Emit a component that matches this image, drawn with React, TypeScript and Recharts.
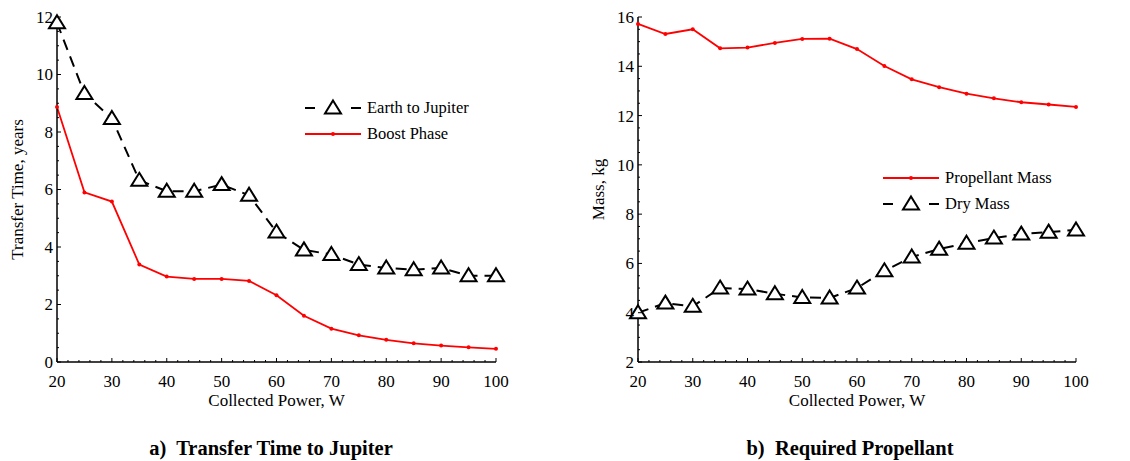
import React from 'react';
import { LineChart, Line, XAxis, YAxis, Legend } from 'recharts';

const FONT = '"Liberation Serif", "Times New Roman", Times, serif';

// Collected power, W
const power = [20, 25, 30, 35, 40, 45, 50, 55, 60, 65, 70, 75, 80, 85, 90, 95, 100];

// a) Transfer time, years
const earthToJupiter = [11.8, 9.34, 8.47, 6.32, 5.94, 5.94, 6.17, 5.8, 4.52, 3.9, 3.74, 3.39, 3.27, 3.21, 3.27, 3.0, 3.0];
const boostPhase = [8.87, 5.9, 5.58, 3.39, 2.97, 2.89, 2.89, 2.82, 2.32, 1.61, 1.16, 0.93, 0.77, 0.65, 0.57, 0.51, 0.46];

// b) Mass, kg
const propellantMass = [15.72, 15.31, 15.5, 14.73, 14.76, 14.95, 15.11, 15.12, 14.7, 14.01, 13.47, 13.15, 12.89, 12.7, 12.54, 12.45, 12.35];
const dryMass = [4.0, 4.39, 4.26, 5.0, 4.96, 4.77, 4.62, 4.6, 5.0, 5.7, 6.26, 6.58, 6.82, 7.03, 7.19, 7.27, 7.36];

// tick labels
const xMajor = [20, 30, 40, 50, 60, 70, 80, 90, 100];
const yMajorA = [0, 2, 4, 6, 8, 10, 12];
const yMajorB = [2, 4, 6, 8, 10, 12, 14, 16];

const range = (start: number, end: number, step: number) => {
  const out: number[] = [];
  for (let v = start; v <= end + 1e-9; v += step) out.push(Math.round(v * 100) / 100);
  return out;
};

// minor + major tick positions
const xTicks = range(20, 100, 2);
const yTicksA = range(0, 12, 0.5);
const yTicksB = range(2, 16, 0.5);

const dataA = power.map((p, i) => ({ power: p, earth: earthToJupiter[i], boost: boostPhase[i] }));
const dataB = power.map((p, i) => ({ power: p, prop: propellantMass[i], dry: dryMass[i] }));

const TICK_FONT = 17;

const TriangleDot = (props: any) => {
  const { cx, cy, index } = props;
  if (cx == null || cy == null) return <g key={`t-${index}`} />;
  return (
    <path
      key={`t-${index}`}
      d={`M${cx},${cy - 7.5} L${cx + 8},${cy + 5.5} L${cx - 8},${cy + 5.5} Z`}
      fill="#fff"
      stroke="#000"
      strokeWidth={2}
    />
  );
};

const RedDot = (props: any) => {
  const { cx, cy, index } = props;
  if (cx == null || cy == null) return <g key={`r-${index}`} />;
  return <circle key={`r-${index}`} cx={cx} cy={cy} r={2} fill="#ff0000" />;
};

const makeXTick = (majors: number[]) => (props: any) => {
  const { x, y, payload } = props;
  const v = payload.value;
  const major = majors.includes(v);
  return (
    <g>
      <line x1={x} y1={y} x2={x} y2={y - (major ? 4 : 2)} stroke="#000" strokeWidth={1} />
      {major && (
        <text x={x} y={y + 25} textAnchor="middle" fontSize={TICK_FONT} fontFamily={FONT} fill="#000">
          {v}
        </text>
      )}
    </g>
  );
};

const makeYTick = (majors: number[]) => (props: any) => {
  const { x, y, payload } = props;
  const v = payload.value;
  const major = majors.includes(v);
  return (
    <g>
      <line x1={x} y1={y} x2={x + (major ? 4 : 2)} y2={y} stroke="#000" strokeWidth={1} />
      {major && (
        <text x={x - 4} y={y} dy="0.35em" textAnchor="end" fontSize={TICK_FONT} fontFamily={FONT} fill="#000">
          {v}
        </text>
      )}
    </g>
  );
};

type LegendItem = { name: string; kind: 'dashed' | 'red' };

const LegendBox = ({ items }: { items: LegendItem[] }) => (
  <div style={{ fontFamily: FONT, fontSize: 16.5, color: '#000', lineHeight: '26px' }}>
    {items.map((it) => (
      <div key={it.name} style={{ display: 'flex', alignItems: 'center', height: 26, whiteSpace: 'nowrap' }}>
        <svg width={56} height={26} style={{ display: 'block' }}>
          {it.kind === 'dashed' ? (
            <>
              <line x1={0} y1={13} x2={10} y2={13} stroke="#000" strokeWidth={2} />
              <path d="M28,5.5 L36,18.5 L20,18.5 Z" fill="#fff" stroke="#000" strokeWidth={2} />
              <line x1={46} y1={13} x2={56} y2={13} stroke="#000" strokeWidth={2} />
            </>
          ) : (
            <>
              <line x1={0} y1={13} x2={56} y2={13} stroke="#ff0000" strokeWidth={1.8} />
              <circle cx={28} cy={13} r={2} fill="#ff0000" />
            </>
          )}
        </svg>
        <span style={{ marginLeft: 6 }}>{it.name}</span>
      </div>
    ))}
  </div>
);

const axisStyle = { stroke: '#000', strokeWidth: 1.5 };

const titleStyle: React.CSSProperties = {
  position: 'absolute',
  top: 438,
  width: 400,
  textAlign: 'center',
  fontSize: 20.5,
  fontWeight: 'bold',
  lineHeight: '21px',
  whiteSpace: 'pre',
  color: '#000',
};

export default function App() {
  return (
    <div style={{ position: 'absolute', left: 0, top: 0, width: 1130, height: 461, background: '#fff', fontFamily: FONT }}>
      <div style={{ position: 'absolute', left: 0, top: 0 }}>
        <LineChart width={560} height={420} data={dataA} margin={{ top: 17, right: 64, bottom: 28, left: 0 }}>
          <XAxis
            dataKey="power"
            type="number"
            domain={[20, 100]}
            ticks={xTicks}
            interval={0}
            tickLine={false}
            tickSize={0}
            tickMargin={0}
            height={30}
            axisLine={axisStyle}
            tick={makeXTick(xMajor)}
            label={{ value: 'Collected Power, W', position: 'bottom', offset: 2, fontSize: TICK_FONT, fontFamily: FONT, fill: '#000' }}
          />
          <YAxis
            type="number"
            domain={[0, 12]}
            ticks={yTicksA}
            interval={0}
            tickLine={false}
            tickSize={0}
            tickMargin={0}
            width={57}
            axisLine={axisStyle}
            tick={makeYTick(yMajorA)}
            label={{
              value: 'Transfer Time, years',
              angle: -90,
              position: 'insideLeft',
              offset: 17,
              fontSize: TICK_FONT,
              fontFamily: FONT,
              fill: '#000',
              style: { textAnchor: 'middle' },
            }}
          />
          <Line
            dataKey="boost"
            name="Boost Phase"
            type="linear"
            stroke="#ff0000"
            strokeWidth={1.8}
            dot={RedDot}
            activeDot={false}
            isAnimationActive={false}
          />
          <Line
            dataKey="earth"
            name="Earth to Jupiter"
            type="linear"
            stroke="#000"
            strokeWidth={2}
            strokeDasharray="11 7"
            dot={TriangleDot}
            activeDot={false}
            isAnimationActive={false}
          />
          <Legend
            layout="vertical"
            align="center"
            verticalAlign="middle"
            wrapperStyle={{ left: 305, top: 95, width: 'auto' }}
            content={() => (
              <LegendBox
                items={[
                  { name: 'Earth to Jupiter', kind: 'dashed' },
                  { name: 'Boost Phase', kind: 'red' },
                ]}
              />
            )}
          />
        </LineChart>
      </div>

      <div style={{ position: 'absolute', left: 570, top: 0 }}>
        <LineChart width={560} height={420} data={dataB} margin={{ top: 17, right: 54, bottom: 28, left: 0 }}>
          <XAxis
            dataKey="power"
            type="number"
            domain={[20, 100]}
            ticks={xTicks}
            interval={0}
            tickLine={false}
            tickSize={0}
            tickMargin={0}
            height={30}
            axisLine={axisStyle}
            tick={makeXTick(xMajor)}
            label={{ value: 'Collected Power, W', position: 'bottom', offset: 2, fontSize: TICK_FONT, fontFamily: FONT, fill: '#000' }}
          />
          <YAxis
            type="number"
            domain={[2, 16]}
            ticks={yTicksB}
            interval={0}
            tickLine={false}
            tickSize={0}
            tickMargin={0}
            width={68}
            axisLine={axisStyle}
            tick={makeYTick(yMajorB)}
            label={{
              value: 'Mass, kg',
              angle: -90,
              position: 'insideLeft',
              offset: 28,
              fontSize: TICK_FONT,
              fontFamily: FONT,
              fill: '#000',
              style: { textAnchor: 'middle' },
            }}
          />
          <Line
            dataKey="prop"
            name="Propellant Mass"
            type="linear"
            stroke="#ff0000"
            strokeWidth={1.8}
            dot={RedDot}
            activeDot={false}
            isAnimationActive={false}
          />
          <Line
            dataKey="dry"
            name="Dry Mass"
            type="linear"
            stroke="#000"
            strokeWidth={2}
            strokeDasharray="11 7"
            dot={TriangleDot}
            activeDot={false}
            isAnimationActive={false}
          />
          <Legend
            layout="vertical"
            align="center"
            verticalAlign="middle"
            wrapperStyle={{ left: 313, top: 165, width: 'auto' }}
            content={() => (
              <LegendBox
                items={[
                  { name: 'Propellant Mass', kind: 'red' },
                  { name: 'Dry Mass', kind: 'dashed' },
                ]}
              />
            )}
          />
        </LineChart>
      </div>

      <div style={{ ...titleStyle, left: 71 }}>{'a)  Transfer Time to Jupiter'}</div>
      <div style={{ ...titleStyle, left: 650 }}>{'b)  Required Propellant'}</div>
    </div>
  );
}
